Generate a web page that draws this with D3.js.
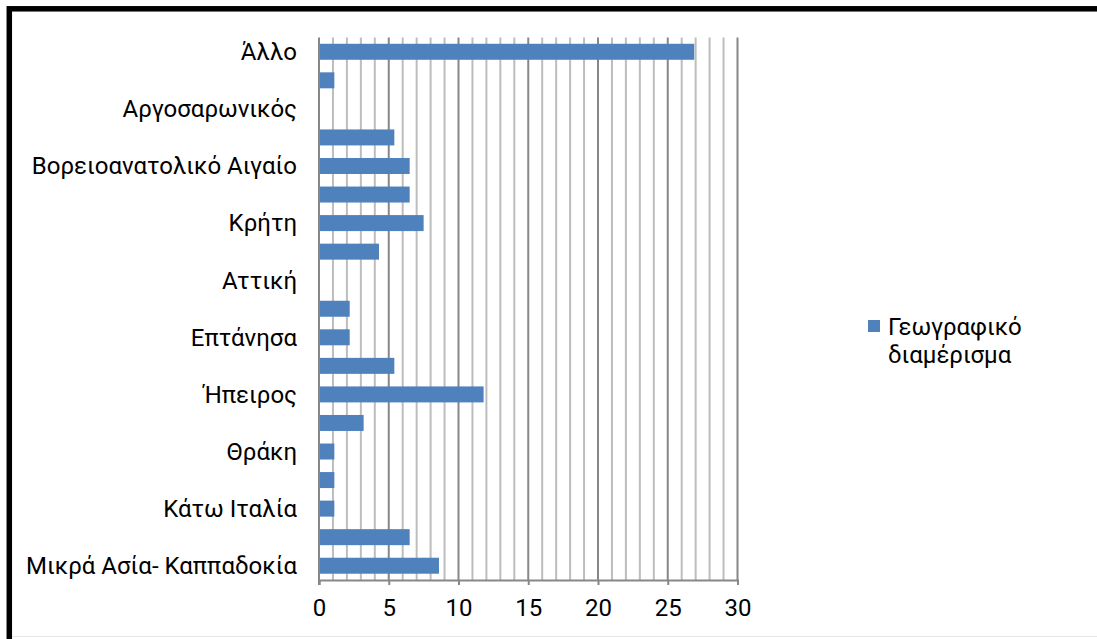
<!DOCTYPE html>
<html><head><meta charset="utf-8">
<script src="https://cdn.jsdelivr.net/npm/d3@7"></script>
<style>
html,body{margin:0;padding:0;background:#fff;}
svg{display:block;font-family:Roboto,"Noto Sans",sans-serif;}
</style></head>
<body>
<svg id="c" width="1097" height="639"></svg>
<script>
// Categories from top to bottom
const categories = ["Άλλο","Δωδεκάνησα","Αργοσαρωνικός","Κυκλάδες","Βορειοανατολικό Αιγαίο","Πελοπόννησος","Κρήτη","Στερεά Ελλάδα","Αττική","Θεσσαλία","Επτάνησα","Μακεδονία","Ήπειρος","Ανατολική Ρωμυλία","Θράκη","Κύπρος","Κάτω Ιταλία","Πόντος","Μικρά Ασία- Καππαδοκία"];
const values = [26.9,1.1,0,5.4,6.5,6.5,7.5,4.3,0,2.2,2.2,5.4,11.8,3.2,1.1,1.1,1.1,6.5,8.6];
const shownLabels = ["Άλλο","Αργοσαρωνικός","Βορειοανατολικό Αιγαίο","Κρήτη","Αττική","Επτάνησα","Ήπειρος","Θράκη","Κάτω Ιταλία","Μικρά Ασία- Καππαδοκία"];
const xTicks = [0,5,10,15,20,25,30];
const seriesName = ["Γεωγραφικό","διαμέρισμα"];

(function(){
const svg = d3.select("#c");
const pL = 319, pR = 737.5, pT = 37.5, pB = 580;
const FS = "24px";
const x = d3.scaleLinear().domain([0,30]).range([pL,pR]);
const y = d3.scaleBand().domain(categories).range([pT,pB]).paddingInner(0.44).paddingOuter(0.22);

// border
svg.append("rect").attr("x",9.3).attr("y",8.8).attr("width",1200).attr("height",700)
  .attr("fill","none").attr("stroke","#000").attr("stroke-width",5.5);
svg.append("line").attr("x1",12).attr("x2",1097).attr("y1",636.5).attr("y2",636.5).attr("stroke","#e6e6e6");

// minor grid
svg.append("g").selectAll("line").data(d3.range(1,31).filter(d=>d%5!==0)).join("line")
  .attr("x1",d=>x(d)).attr("x2",d=>x(d)).attr("y1",pT).attr("y2",pB)
  .attr("stroke","#bdbdbd").attr("stroke-width",2);
// major grid
svg.append("g").selectAll("line").data(xTicks.filter(d=>d>0)).join("line")
  .attr("x1",d=>x(d)).attr("x2",d=>x(d)).attr("y1",pT).attr("y2",pB)
  .attr("stroke","#878787").attr("stroke-width",2);

// bars
svg.append("g").selectAll("rect").data(categories).join("rect")
  .attr("x",x(0)).attr("y",(d)=>y(d)).attr("height",y.bandwidth())
  .attr("width",(d,i)=>x(values[i])-x(0)).attr("fill","#4F81BD");

// x axis
const xa = svg.append("g").attr("transform",`translate(0,${pB})`)
  .call(d3.axisBottom(x).tickValues(xTicks).tickSize(5).tickPadding(14));
xa.select(".domain").attr("stroke","#878787").attr("stroke-width",2);
xa.selectAll(".tick line").attr("stroke","#878787").attr("stroke-width",2);
xa.selectAll("text").attr("font-size",FS).attr("fill","#000").attr("font-family","Roboto");

// y axis line
svg.append("line").attr("x1",pL).attr("x2",pL).attr("y1",pT).attr("y2",pB+5)
  .attr("stroke","#878787").attr("stroke-width",2);

// category labels
svg.append("g").selectAll("text").data(categories.filter(c=>shownLabels.includes(c))).join("text")
  .attr("x",297).attr("y",d=>y(d)+y.bandwidth()/2).attr("dy","0.35em")
  .attr("text-anchor","end").attr("font-size",FS).attr("fill","#000").text(d=>d);

// legend
svg.append("rect").attr("x",868).attr("y",320).attr("width",12).attr("height",12).attr("fill","#4F81BD");
svg.append("g").selectAll("text").data(seriesName).join("text")
  .attr("x",888).attr("y",(d,i)=>327+i*28).attr("dy","0.35em")
  .attr("font-size",FS).attr("fill","#000").text(d=>d);
})();
</script>
</body></html>
